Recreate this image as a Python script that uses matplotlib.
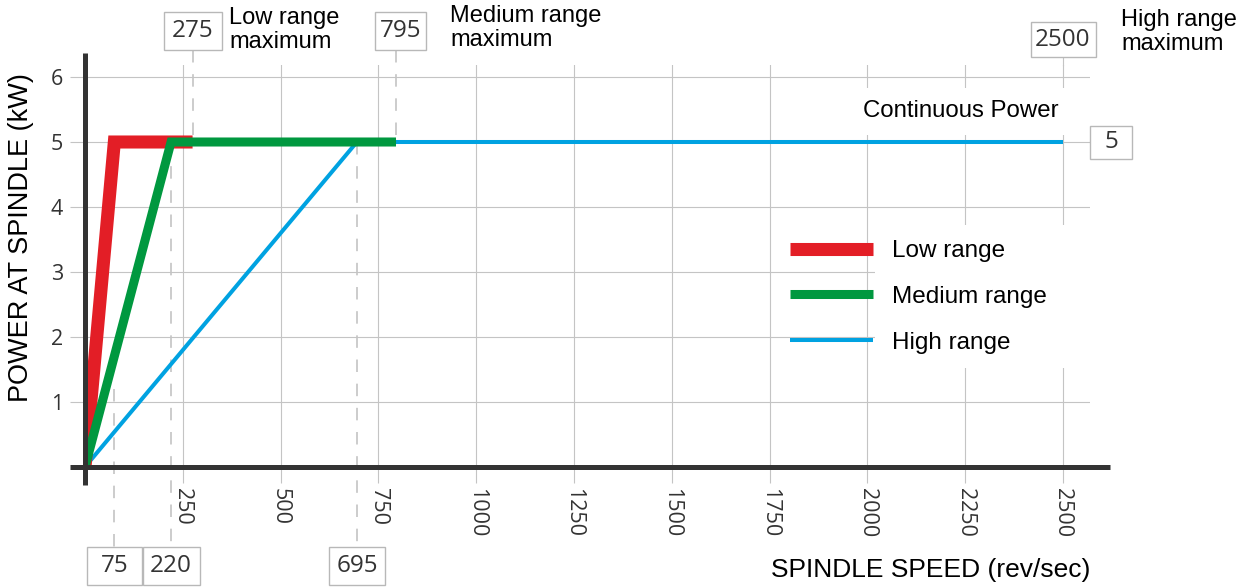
import matplotlib
matplotlib.use('Agg')
import matplotlib.pyplot as plt
from matplotlib.patches import Rectangle
from matplotlib.transforms import IdentityTransform

# ---------------- data ----------------
low_speed = [0, 75, 275]
low_power = [0, 5, 5]
med_speed = [0, 220, 795]
med_power = [0, 5, 5]
high_speed = [0, 695, 2500]
high_power = [0, 5, 5]
series_names = ['Low range', 'Medium range', 'High range']
x_ticks = [250, 500, 750, 1000, 1250, 1500, 1750, 2000, 2250, 2500]
y_ticks = [1, 2, 3, 4, 5, 6]
corner_speeds = [75, 220, 695]
corner_labels = ['75', '220', '695']
max_speeds = [275, 795, 2500]
max_labels = ['275', '795', '2500']
max_texts = ['Low range\nmaximum', 'Medium range\nmaximum', 'High range\nmaximum']
continuous_power = 5
continuous_label = 'Continuous Power'

# ---------------- layout ----------------
W, H = 1248, 588
DPI = 100
X0, XS = 85.0, 978.0 / 2500.0      # pixel of x=0, px per rev/sec
Y0, YS = 467.0, 65.0               # pixel (from top) of y=0, px per kW
xmax = 2570
ymax = (Y0 - 65) / YS

def vx(px):   # pixel x -> data
    return (px - X0) / XS

def vy(py):   # pixel y (from top) -> data
    return (Y0 - py) / YS

LAB = 'Liberation Sans'
NUM = 'Open Sans'
GRID = '#c4c4c4'
AXC = '#333333'
TXT = '#333333'
RED, GREEN, BLUE = '#e31e26', '#00983f', '#00a2e1'

fig = plt.figure(figsize=(W / DPI, H / DPI), dpi=DPI)
ax = fig.add_axes([X0 / W, (H - Y0) / H, xmax * XS / W, ymax * YS / H])
ax.set_xlim(0, xmax)
ax.set_ylim(0, ymax)
for s in ax.spines.values():
    s.set_visible(False)
ax.set_axisbelow(True)
ax.grid(True, color=GRID, lw=0.8)

ax.set_xticks(x_ticks)
ax.set_xticklabels([str(t) for t in x_ticks], rotation=-90, fontfamily=NUM,
                   fontsize=15.5, color=TXT)
ax.set_yticks(y_ticks)
ax.set_yticklabels([str(t) for t in y_ticks], fontfamily=NUM, fontsize=15.5, color=TXT)
ax.tick_params(axis='x', length=11.5, width=0.8, color=GRID, pad=3.5)
ax.tick_params(axis='y', length=10.8, width=0.8, color=GRID, pad=5)

# axis lines
ax.axhline(0, xmin=vx(70) / xmax, xmax=vx(1110) / xmax, color=AXC, lw=3.6,
           clip_on=False, zorder=6, solid_capstyle='butt')
ax.axvline(0, ymin=vy(485) / ymax, ymax=vy(53) / ymax, color=AXC, lw=3.6,
           clip_on=False, zorder=6, solid_capstyle='butt')

# white areas behind texts (gaps in grid)
ax.add_patch(Rectangle((vx(875), vy(368)), vx(1100) - vx(875), vy(225) - vy(368),
                       fc='white', ec='none', zorder=1, clip_on=False))
ax.add_patch(Rectangle((vx(855), vy(135)), vx(1072) - vx(855), vy(88) - vy(135),
                       fc='white', ec='none', zorder=1, clip_on=False))

# dashed reference lines
dash = (0, (7.5, 7))
box_bottom_top = vy(547)
ax.plot([corner_speeds[0]] * 2, [1.2, box_bottom_top], color=GRID, lw=1.2,
        ls=dash, clip_on=False, zorder=1.2)
for sp in corner_speeds[1:]:
    ax.plot([sp, sp], [continuous_power, box_bottom_top], color=GRID, lw=1.2,
            ls=dash, clip_on=False, zorder=1.2)
for sp in max_speeds[:2]:
    ax.plot([sp, sp], [vy(50), continuous_power], color=GRID, lw=1.2,
            ls=dash, clip_on=False, zorder=1.2)
ax.plot([max_speeds[2]] * 2, [vy(57), ymax], color=GRID, lw=0.8,
        clip_on=False, zorder=1.2)

# data lines
l_blue, = ax.plot(high_speed, high_power, color=BLUE, lw=2.9, zorder=3,
                  solid_joinstyle='miter', solid_capstyle='butt', label=series_names[2])
l_red, = ax.plot(low_speed, low_power, color=RED, lw=9.4, zorder=4,
                 solid_joinstyle='miter', solid_capstyle='butt', label=series_names[0])
l_green, = ax.plot(med_speed, med_power, color=GREEN, lw=6.5, zorder=5,
                   solid_joinstyle='miter', solid_capstyle='butt', label=series_names[1])

leg = ax.legend(handles=[l_red, l_green, l_blue], loc='upper left',
                bbox_to_anchor=(vx(790), vy(240)), bbox_transform=ax.transData,
                frameon=False, fontsize=17.5, handlelength=3.4, handletextpad=0.8,
                labelspacing=0.98, borderpad=0, borderaxespad=0)
for t in leg.get_texts():
    t.set_fontfamily(LAB)

# boxes with numbers
def boxed(x, y, text, w, h, fs=17.5):
    px, py = ax.transData.transform((x, y))
    ax.add_artist(Rectangle((px - w / 2, py - h / 2), w, h, transform=IdentityTransform(),
                            fc='white', ec='#b8b8b8', lw=1.0, zorder=7, clip_on=False))
    ax.text(x, y, text, ha='center', va='center', fontfamily=NUM, fontsize=fs,
            color=TXT, zorder=8, clip_on=False)

bottom_widths = [55, 57, 56]
for sp, lab, w in zip(corner_speeds, corner_labels, bottom_widths):
    boxed(sp, vy(566), lab, w, 38)
boxed(max_speeds[0], vy(31), max_labels[0], 58, 38)
boxed(max_speeds[1] + 12, vy(31), max_labels[1], 51, 38)
boxed(max_speeds[2], vy(39.5), max_labels[2], 65, 35)
boxed(vx(1111), continuous_power, str(continuous_power), 42, 33)

# range max texts
text_x = [vx(229), vx(450), vx(1121)]
text_y = [vy(7), vy(5), vy(9)]
for tx, ty, s in zip(text_x, text_y, max_texts):
    ax.text(tx, ty, s, ha='left', va='top', fontfamily=LAB, fontsize=17,
            linespacing=1.1, color='black', clip_on=False)

ax.text(vx(961), vy(111), continuous_label, ha='center', va='center',
        fontfamily=LAB, fontsize=17.3, color='black', zorder=8)

ax.set_xlabel('SPINDLE SPEED (rev/sec)', fontfamily=LAB, fontsize=19, color='black',
              ha='right', va='center')
ax.xaxis.set_label_coords((1090 - X0) / (xmax * XS), (Y0 - 570) / (ymax * YS))
ax.set_ylabel('POWER AT SPINDLE (kW)', fontfamily=LAB, fontsize=19.5, color='black',
              ha='center', va='center')
ax.yaxis.set_label_coords((21 - X0) / (xmax * XS), (Y0 - 238) / (ymax * YS))

fig.savefig('out.png', dpi=DPI)
